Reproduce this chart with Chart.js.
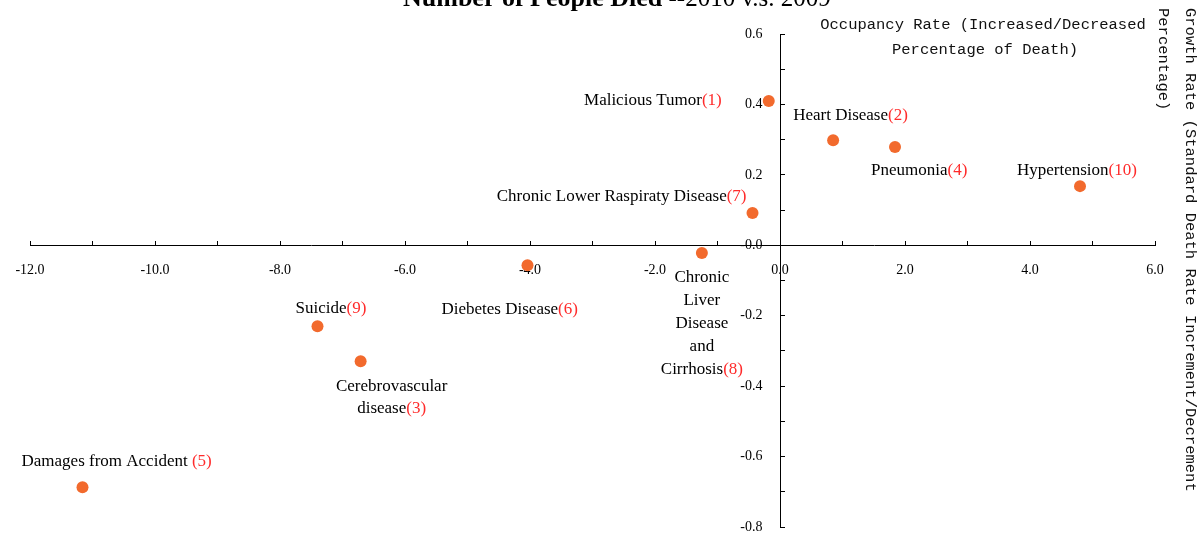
<!DOCTYPE html>
<html>
<head>
<meta charset="utf-8">
<script src="https://cdn.jsdelivr.net/npm/chart.js@4.4.0/dist/chart.umd.min.js"></script>
<style>
  body { margin: 0; background: #fff; }
  #wrap { width: 1203px; height: 543px; position: relative; }
</style>
</head>
<body>
<div id="wrap"><canvas id="scatter-chart"></canvas></div>
<script>
// causes of death, ranked
const categories = [
  "Malicious Tumor",
  "Heart Disease",
  "Cerebrovascular disease",
  "Pneumonia",
  "Damages from Accident",
  "Diebetes Disease",
  "Chronic Lower Raspiraty Disease",
  "Chronic Liver Disease and Cirrhosis",
  "Suicide",
  "Hypertension"
];
const ranks = [1, 2, 3, 4, 5, 6, 7, 8, 9, 10];
// occupancy rate (increased/decreased percentage of death)
const xValues = [-0.18, 0.85, -6.71, 1.84, -11.16, -4.04, -0.44, -1.25, -7.40, 4.80];
// growth rate (standard death rate increment/decrement percentage)
const yValues = [0.41, 0.298, -0.329, 0.279, -0.687, -0.057, 0.092, -0.022, -0.23, 0.168];

const xTicks = { min: -12, max: 6, step: 1 };
const yTicks = { min: -0.8, max: 0.6, step: 0.1 };

// where each label sits relative to its point
const labelPlace = [
  { align: 'right', dx: -47, dy: 0 },
  { align: 'left', dx: -40, dy: -25 },
  { align: 'center', dx: 31, dy: 25, wrap: true, lh: 22 },
  { align: 'left', dx: -24, dy: 23 },
  { align: 'left', dx: -61, dy: -26, space: true },
  { align: 'left', dx: -86, dy: 44 },
  { align: 'right', dx: -6, dy: -16 },
  { align: 'center', dx: 0, dy: 24, wrap: true, lh: 23 },
  { align: 'left', dx: -22, dy: -18 },
  { align: 'left', dx: -63, dy: -16 }
];

const red = '#ff2b2b';
const serif = '"Liberation Serif", "Times New Roman", serif';
const mono = '"Liberation Mono", "Courier New", monospace';

const pointLabels = {
  id: 'pointLabels',
  afterDatasetsDraw(chart) {
    const ctx = chart.ctx;
    const meta = chart.getDatasetMeta(0);
    ctx.save();
    ctx.font = '17px ' + serif;
    ctx.textBaseline = 'middle';
    ctx.textAlign = 'left';
    meta.data.forEach((pt, i) => {
      const p = labelPlace[i];
      const lines = p.wrap ? categories[i].split(' ') : [categories[i]];
      if (i === 2) { lines.splice(0, lines.length, 'Cerebrovascular', 'disease'); }
      lines.forEach((line, j) => {
        const suffix = j === lines.length - 1 ? (p.space ? ' ' : '') + '(' + ranks[i] + ')' : '';
        const wName = ctx.measureText(line).width;
        const total = wName + ctx.measureText(suffix).width;
        let x0 = pt.x + p.dx;
        if (p.align === 'right') x0 -= total;
        else if (p.align === 'center') x0 -= total / 2;
        const y = pt.y + p.dy + j * (p.lh || 0);
        ctx.fillStyle = '#000';
        ctx.fillText(line, x0, y);
        ctx.fillStyle = red;
        ctx.fillText(suffix, x0 + wName, y);
      });
    });
    ctx.restore();
  }
};

const titles = {
  id: 'titles',
  afterDraw(chart) {
    const ctx = chart.ctx;
    ctx.save();
    // main title, partly cut off at the top
    ctx.textBaseline = 'alphabetic';
    ctx.textAlign = 'left';
    ctx.fillStyle = '#000';
    ctx.font = 'bold 26px ' + serif;
    const t1 = 'Number of People Died';
    ctx.fillText(t1, 403, 6);
    const w1 = ctx.measureText(t1).width;
    ctx.font = '25px ' + serif;
    ctx.fillText(' --2010 v.s. 2009', 403 + w1, 6);

    // x axis title
    ctx.font = '15.5px ' + mono;
    ctx.fillStyle = '#111';
    ctx.textAlign = 'center';
    ctx.textBaseline = 'middle';
    ctx.fillText('Occupancy Rate (Increased/Decreased', 983, 25);
    ctx.fillText('Percentage of Death)', 985, 50);

    // y axis title, rotated
    ctx.translate(1190, 8);
    ctx.rotate(Math.PI / 2);
    ctx.textAlign = 'left';
    ctx.fillText('Growth Rate (Standard Death Rate Increment/Decrement', 0, 0);
    ctx.fillText('Percentage)', 0, 27);
    ctx.restore();
  }
};

// crossing axes take no room of their own
function noRoom(s) {
  if (s.isHorizontal()) s.height = 0; else s.width = 0;
  s.paddingLeft = 0;
  s.paddingRight = 0;
  s.paddingTop = 0;
  s.paddingBottom = 0;
}

new Chart(document.getElementById('scatter-chart'), {
  type: 'scatter',
  data: {
    labels: categories,
    datasets: [{
      data: xValues.map((x, i) => ({ x: x, y: yValues[i] })),
      backgroundColor: '#f26a2d',
      borderWidth: 0,
      pointRadius: 6,
      pointHoverRadius: 6
    }]
  },
  options: {
    responsive: true,
    maintainAspectRatio: false,
    animation: false,
    layout: { padding: { left: 30, right: 48, top: 34, bottom: 16 } },
    plugins: {
      legend: { display: false },
      title: { display: false },
      tooltip: { enabled: false }
    },
    scales: {
      x: {
        type: 'linear',
        min: xTicks.min,
        max: xTicks.max,
        position: { y: 0 },
        afterFit: noRoom,
        border: { color: '#000', width: 1 },
        grid: { drawOnChartArea: false, drawTicks: true, tickLength: -5, tickColor: '#000' },
        ticks: {
          stepSize: xTicks.step,
          autoSkip: false,
          maxRotation: 0,
          padding: 22,
          color: '#000',
          font: { family: serif, size: 14 },
          callback: (v) => (Math.round(v) % 2 === 0 ? Number(v).toFixed(1) : '')
        }
      },
      y: {
        type: 'linear',
        min: yTicks.min,
        max: yTicks.max,
        position: { x: 0 },
        afterFit: noRoom,
        border: { color: '#000', width: 1 },
        grid: { drawOnChartArea: false, drawTicks: true, tickLength: -5, tickColor: '#000' },
        ticks: {
          stepSize: yTicks.step,
          autoSkip: false,
          color: '#000',
          font: { family: serif, size: 14 },
          // trailing spaces keep the labels clear of the axis line
          callback: (v) => (Math.round(v * 10) % 2 === 0 ? Number(v).toFixed(1) + '     ' : '')
        }
      }
    }
  },
  plugins: [pointLabels, titles]
});
</script>
</body>
</html>
